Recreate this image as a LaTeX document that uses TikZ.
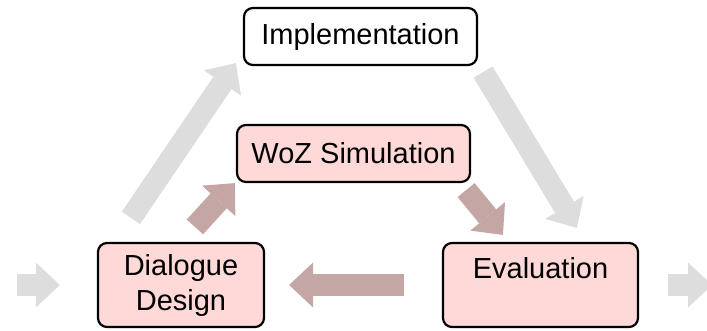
\documentclass[tikz,border=0pt]{standalone}
\usepackage{fontspec}
\setmainfont{Liberation Sans}
\usetikzlibrary{arrows.meta}

\definecolor{boxpink}{HTML}{FFD8D8}
\definecolor{arrowbrown}{HTML}{C4A6A4}
\definecolor{arrowgrey}{HTML}{DDDDDD}

\tikzset{
  stage/.style={draw=black, line width=2.2pt, rounded corners=9pt, inner sep=0pt,
    align=center, font=\fontsize{29}{35}\selectfont},
  pinkstage/.style={stage, fill=boxpink},
  fat/.style={line width=22pt,
    -{Triangle[length=24pt 0 0, width=45pt 0 0, line width=0pt 0 0]}},
  greyflow/.style={fat, draw=arrowgrey},
  brownflow/.style={fat, draw=arrowbrown},
}

\begin{document}
\begin{tikzpicture}[x=1pt, y=-1pt]
  \useasboundingbox (0,0) rectangle (707,330);
  \clip (0,0) rectangle (707,330);

  % stages
  \node[stage, fill=white, minimum width=233pt, minimum height=57pt] (impl) at (360.5,36.5) {Implementation};
  \node[pinkstage, minimum width=233pt, minimum height=57pt] (woz) at (353.5,153.5) {WoZ Simulation};
  \node[pinkstage, minimum width=166pt, minimum height=84pt] (design) at (181,285) {Dialogue\\Design};
  \node[pinkstage, minimum width=195pt, minimum height=84pt] (eval) at (540.5,285) {Evaluation\\~};

  \coordinate (in) at (17,285);
  \coordinate (out) at (712,285);

  % outer loop
  \draw[greyflow] ([shift={(34,-24)}]design.north west) -- ([shift={(-7,-3)}]impl.south west);
  \draw[greyflow] ([shift={(5,6)}]impl.south east) -- ([shift={(135,-14)}]eval.north west);

  % inner loop
  \draw[brownflow] ([shift={(98,-15)}]design.north west) -- ([shift={(-1,0)}]woz.south west);
  \draw[brownflow] ([shift={(-5,7)}]woz.south east) -- ([shift={(61,-7)}]eval.north west);
  \draw[brownflow, shorten <=38pt, shorten >=24pt] (eval.west) -- (design.east);

  % in and out
  \draw[greyflow] (in) -- ([xshift=-37pt]design.west);
  \draw[greyflow, shorten <=29pt] (eval.east) -- (out);
\end{tikzpicture}
\end{document}
